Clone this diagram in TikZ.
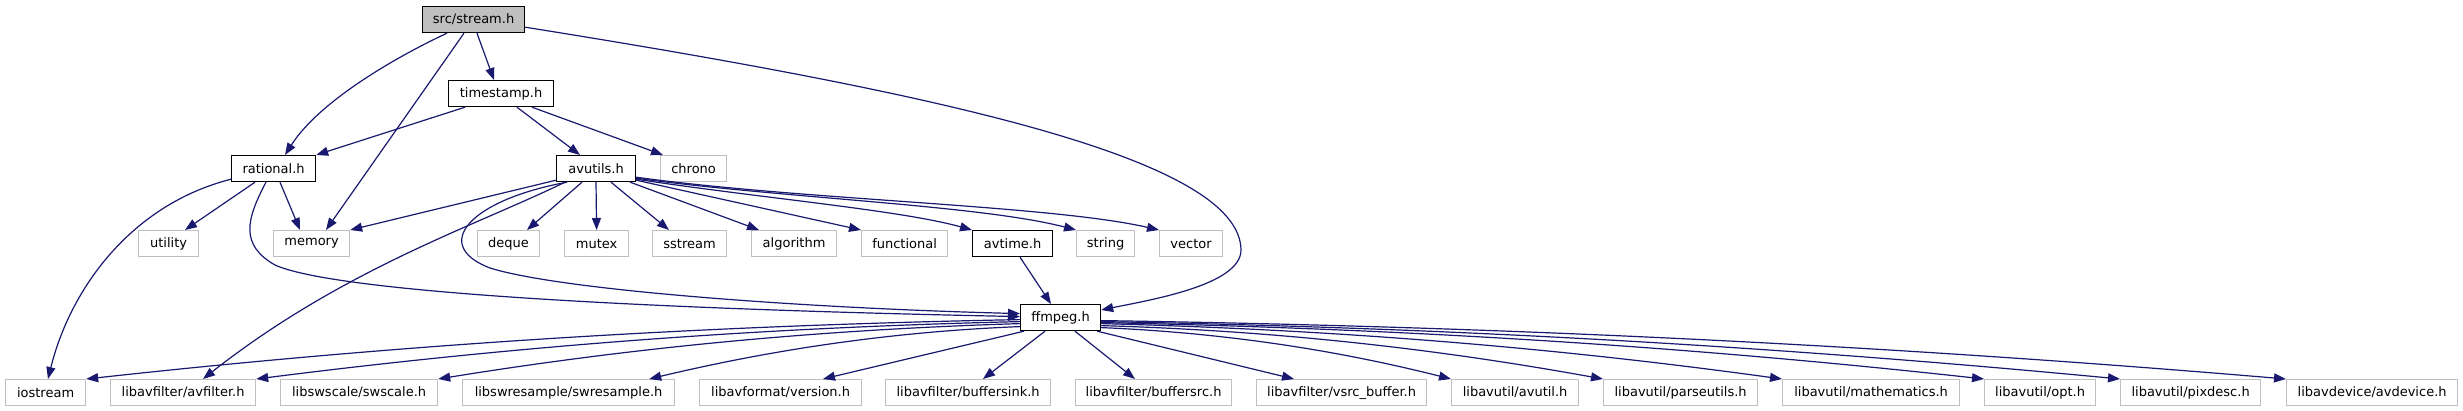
\documentclass[tikz,border=0pt]{standalone}
\usepackage{fontspec}
\setmainfont{DejaVu Sans}
\usetikzlibrary{arrows.meta}
\definecolor{edgeblue}{HTML}{191970}
\definecolor{grey75}{HTML}{BFBFBF}
\tikzset{
  box/.style={rectangle, inner sep=0pt, minimum height=26pt, anchor=north west,
    font=\fontsize{13}{15}\selectfont, line width=1.2pt},
  docbox/.style={box, draw=black, fill=white},
  extbox/.style={box, draw=grey75, fill=white},
  rootbox/.style={box, draw=black, fill=grey75},
  dep/.style={draw=edgeblue, line width=1.2pt, -{Triangle[length=12pt,width=9pt]}}
}
\begin{document}
\begin{tikzpicture}[x=1pt,y=-1pt]
\fill[white] (0,0) rectangle (2463,411);
\useasboundingbox (0,0) rectangle (2463,411);
% row 1
\node[rootbox, minimum width=102pt] (stream) at (422,6) {src/stream.h};
% row 2
\node[docbox, minimum width=105pt] (timestamp) at (448,80) {timestamp.h};
% row 3
\node[docbox, minimum width=84pt] (rational) at (231,155) {rational.h};
\node[docbox, minimum width=79pt] (avutils) at (556,155) {avutils.h};
\node[extbox, minimum width=66pt] (chrono) at (660,155) {chrono};
% row 4
\node[extbox, minimum width=60pt] (utility) at (138,230) {utility};
\node[extbox, minimum width=76pt] (memory) at (273,230) {memory};
\node[extbox, minimum width=62pt] (deque) at (477,230) {deque};
\node[extbox, minimum width=64pt] (mutex) at (564,230) {mutex};
\node[extbox, minimum width=74pt] (sstream) at (652,230) {sstream};
\node[extbox, minimum width=85pt] (algorithm) at (751,230) {algorithm};
\node[extbox, minimum width=86pt] (functional) at (861,230) {functional};
\node[docbox, minimum width=80pt] (avtime) at (972,230) {avtime.h};
\node[extbox, minimum width=58pt] (string) at (1076,230) {string};
\node[extbox, minimum width=63pt] (vector) at (1159,230) {vector};
% row 5
\node[docbox, minimum width=80pt] (ffmpeg) at (1020,304) {ffmpeg.h};
% row 6
\node[extbox, minimum width=80pt] (iostream) at (5,379) {iostream};
\node[extbox, minimum width=145pt] (avfilter) at (110,379) {libavfilter/avfilter.h};
\node[extbox, minimum width=157pt] (swscale) at (280,379) {libswscale/swscale.h};
\node[extbox, minimum width=212pt] (swresample) at (462,379) {libswresample/swresample.h};
\node[extbox, minimum width=162pt] (version) at (699,379) {libavformat/version.h};
\node[extbox, minimum width=165pt] (buffersink) at (885,379) {libavfilter/buffersink.h};
\node[extbox, minimum width=156pt] (buffersrc) at (1075,379) {libavfilter/buffersrc.h};
\node[extbox, minimum width=170pt] (vsrc) at (1256,379) {libavfilter/vsrc\_buffer.h};
\node[extbox, minimum width=127pt] (avutil) at (1451,379) {libavutil/avutil.h};
\node[extbox, minimum width=154pt] (parseutils) at (1603,379) {libavutil/parseutils.h};
\node[extbox, minimum width=177pt] (mathematics) at (1782,379) {libavutil/mathematics.h};
\node[extbox, minimum width=111pt] (opt) at (1984,379) {libavutil/opt.h};
\node[extbox, minimum width=140pt] (pixdesc) at (2120,379) {libavutil/pixdesc.h};
\node[extbox, minimum width=171pt] (avdevice) at (2286,379) {libavdevice/avdevice.h};

% from src/stream.h
\draw[dep] ([xshift=25pt]stream.south west) .. controls (400,55) and (320,100) .. ([xshift=54pt]rational.north west);
\draw[dep] ([xshift=42pt]stream.south west) -- ([xshift=53pt]memory.north west);
\draw[dep] ([xshift=55pt]stream.south west) -- ([xshift=46pt]timestamp.north west);
\draw[dep] ([yshift=6pt]stream.south east) .. controls (950,95) and (1240,160) .. (1241,250)
  .. controls (1241,285) and (1150,300) .. ([yshift=-6pt]ffmpeg.north east);
% from timestamp.h
\draw[dep] ([xshift=17pt]timestamp.south west) -- (rational.north east);
\draw[dep] ([xshift=69pt]timestamp.south west) -- ([xshift=24pt]avutils.north west);
\draw[dep] ([xshift=84pt]timestamp.south west) -- ([xshift=3pt]chrono.north west);
% from rational.h
\draw[dep] ([yshift=3pt]rational.south west) .. controls (130,205) and (70,290) .. ([xshift=43pt]iostream.north west);
\draw[dep] ([xshift=24pt]rational.south west) -- ([xshift=47pt]utility.north west);
\draw[dep] ([xshift=49pt]rational.south west) -- ([xshift=27pt]memory.north west);
\draw[dep] ([xshift=35pt]rational.south west) .. controls (246,220) and (240,245) .. (275,265)
  .. controls (330,290) and (600,308) .. ([yshift=1pt]ffmpeg.west);
% from avutils.h
\draw[dep] ([yshift=2pt]avutils.south west) -- (memory.north east);
\draw[dep] ([xshift=9pt]avutils.south west) .. controls (475,226) and (343,269) .. ([xshift=93pt]avfilter.north west);
\draw[dep] ([xshift=11pt]avutils.south west) .. controls (470,200) and (430,245) .. (490,268)
  .. controls (560,290) and (800,308) .. ([yshift=4pt]ffmpeg.west);
\draw[dep] ([xshift=26pt]avutils.south west) -- ([xshift=50pt]deque.north west);
\draw[dep] ([xshift=40pt]avutils.south west) -- (mutex.north);
\draw[dep] ([xshift=55pt]avutils.south west) -- ([xshift=17pt]sstream.north west);
\draw[dep] ([xshift=-6pt]avutils.south east) -- ([xshift=8pt]algorithm.north west);
\draw[dep] ([yshift=2pt]avutils.south east) -- (functional.north west);
\draw[dep] ([yshift=3pt]avutils.south east) .. controls (760,198) and (900,210) .. (avtime.north west);
\draw[dep] ([yshift=4pt]avutils.south east) .. controls (780,198) and (980,205) .. (string.north west);
\draw[dep] ([yshift=5pt]avutils.south east) .. controls (800,200) and (1050,205) .. (vector.north west);
% from avtime.h
\draw[dep] ([xshift=48pt]avtime.south west) -- ([xshift=31pt]ffmpeg.north west);
% from ffmpeg.h
\draw[dep] ([yshift=-2pt]ffmpeg.west) .. controls +(-318,6) and +(318,-35) .. (iostream.north east);
\draw[dep] ([yshift=-4pt]ffmpeg.west) .. controls +(-260,6) and +(260,-33) .. (avfilter.north east);
\draw[dep] ([yshift=-6pt]ffmpeg.west) .. controls +(-198,6) and +(198,-32) .. (swscale.north east);
\draw[dep] ([yshift=-9pt]ffmpeg.west) .. controls +(-126,5) and +(126,-30) .. ([xshift=-26pt]swresample.north east);
\draw[dep] ([xshift=4pt]ffmpeg.south west) -- ([xshift=124pt]version.north west);
\draw[dep] ([xshift=25pt]ffmpeg.south west) -- ([xshift=98pt]buffersink.north west);
\draw[dep] ([xshift=55pt]ffmpeg.south west) -- ([xshift=60pt]buffersrc.north west);
\draw[dep] ([xshift=-4pt]ffmpeg.south east) -- ([xshift=38pt]vsrc.north west);
\draw[dep] ([yshift=-10pt]ffmpeg.east) .. controls +(119,5) and +(-119,-30) .. (avutil.north west);
\draw[dep] ([yshift=-8pt]ffmpeg.east) .. controls +(171,5) and +(-171,-31) .. (parseutils.north west);
\draw[dep] ([yshift=-6pt]ffmpeg.east) .. controls +(232,6) and +(-232,-32) .. (mathematics.north west);
\draw[dep] ([yshift=-5pt]ffmpeg.east) .. controls +(300,6) and +(-300,-33) .. (opt.north west);
\draw[dep] ([yshift=-4pt]ffmpeg.east) .. controls +(347,6) and +(-347,-33) .. (pixdesc.north west);
\draw[dep] ([yshift=-3pt]ffmpeg.east) .. controls +(403,6) and +(-403,-34) .. (avdevice.north west);
\end{tikzpicture}
\end{document}
